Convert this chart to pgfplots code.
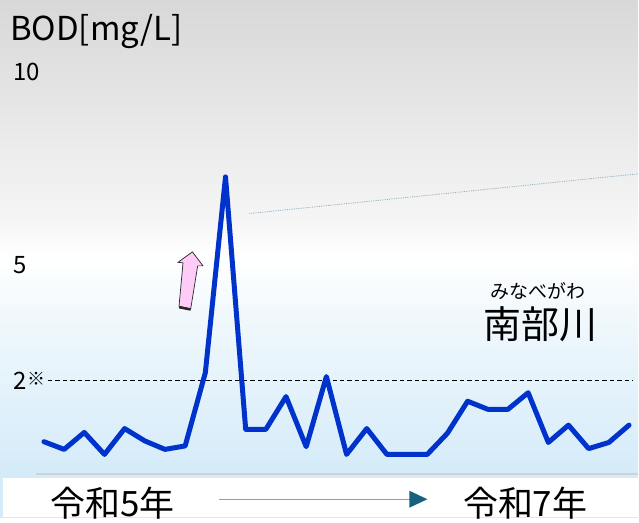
\documentclass[border=0pt]{standalone}
\usepackage{pgfplots}
\pgfplotsset{compat=1.18}
\usepackage{fontspec}
\setmainfont{Noto Sans CJK JP}
\definecolor{bgtop}{RGB}{216,216,216}
\definecolor{bgbot}{RGB}{212,235,249}
\definecolor{bglb}{RGB}{240,248,252}
\definecolor{bglg}{RGB}{245,245,245}
\definecolor{linecol}{RGB}{0,51,204}
\definecolor{arrowhead}{RGB}{24,96,128}
\definecolor{arrowline}{RGB}{126,167,184}
\definecolor{leader}{RGB}{140,172,188}
\definecolor{pinkfill}{RGB}{255,204,248}
\pgfdeclareverticalshading{bgshade}{100bp}{color(0bp)=(bgbot); color(28.9bp)=(bgbot); color(44.3bp)=(bglb); color(50.1bp)=(white); color(54bp)=(bglg); color(75bp)=(bgtop); color(100bp)=(bgtop)}
\pgfplotstableread{
i v
0 0.41
1 0.21
2 0.65
3 0.08
4 0.75
5 0.43
6 0.21
7 0.30
8 2.20
9 7.28
10 0.73
11 0.73
12 1.58
13 0.28
14 2.10
15 0.08
16 0.75
17 0.08
18 0.08
19 0.08
20 0.63
21 1.46
22 1.25
23 1.25
24 1.68
25 0.39
26 0.84
27 0.23
28 0.39
29 0.84
}\bod
\begin{document}
\begin{tikzpicture}[x=1pt,y=1pt]
% background
\shade[shading=bgshade] (0,0) rectangle (639,518);
\fill[white] (3.5,0) rectangle (639,39);
\draw[black!18, line width=2pt] (36,43.5) -- (639,43.5);
\begin{axis}[
  at={(35pt,40pt)}, anchor=south west,
  scale only axis, width=604pt, height=418pt,
  xmin=-0.445, xmax=29.445, ymin=-0.513, ymax=10.316,
  axis line style={draw=none},
  xtick=\empty,
  ytick={2,5,10},
  yticklabels={{2\hspace{1pt}\raisebox{3.5pt}{\fontsize{18}{18}\selectfont ※}},5,10},
  major tick length=0pt,
  yticklabel style={anchor=west, inner sep=0pt, xshift=-22pt, font=\fontsize{24}{24}\selectfont},
  clip=false,
]
\addplot[black, line width=1.1pt, dash pattern=on 4.5pt off 3pt] coordinates {(0.2,2) (29.2,2)};
\addplot[leader, line width=0.8pt, densely dotted] coordinates {(10.19,6.33) (29.445,7.36)};
\addplot[linecol, line width=5pt, line join=round, line cap=round] table[x=i, y=v] {\bod};
\end{axis}
% labels
\node[anchor=base west, inner sep=0pt, font=\fontsize{33}{33}\selectfont] at (10,477) {BOD[mg/L]};
\node[font=\fontsize{19}{19}\selectfont] at (539,226.5) {みなべがわ};
\node[font=\fontsize{38}{38}\selectfont] at (541,193) {南部川};
\node[font=\fontsize{35}{35}\selectfont] at (113,14) {令和5年};
\node[font=\fontsize{35}{35}\selectfont] at (526,14) {令和7年};
% time arrow
\draw[arrowline, line width=1.3pt] (219,18) -- (411,18);
\fill[arrowhead] (410,26.5) -- (428,18) -- (410,9.5) -- cycle;
% pink arrow
\draw[fill=pinkfill, draw=black!85, line width=0.7pt, line join=miter]
  (192.7,265.7) -- (203.3,251.7) -- (198,251.7) -- (191,208.7) -- (179.3,211.3) -- (183.3,254.7) -- (178.3,255.3) -- cycle;
\draw[black!85, line width=2.5pt] (179.5,210.3) -- (191,208);
\end{tikzpicture}
\end{document}
